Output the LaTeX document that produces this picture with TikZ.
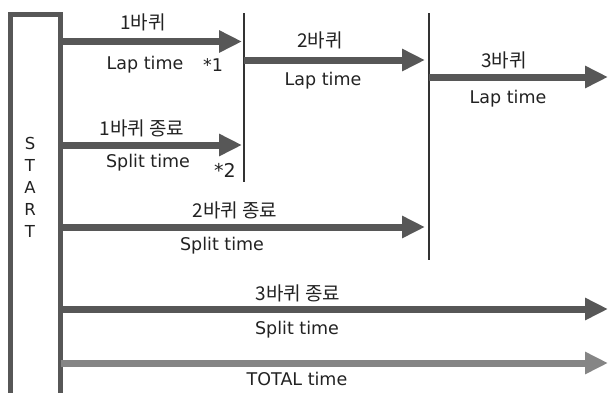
\documentclass[tikz,border=0pt]{standalone}
\usepackage{fontspec}
\setmainfont{DejaVu Sans}
\newfontfamily\kr{Noto Sans CJK KR}
\usetikzlibrary{arrows.meta}
\definecolor{shaft}{HTML}{575757}
\definecolor{shaftlight}{HTML}{858585}
\definecolor{ink}{HTML}{222222}
\definecolor{rule}{HTML}{333333}
\tikzset{
  arr/.style={draw=shaft, line width=7pt,
    -{Triangle[length=23pt, width=21pt]}},
  arrlight/.style={arr, draw=shaftlight},
  mark line/.style={draw=rule, line width=1.4pt},
  lbl/.style={text=ink, inner sep=0pt, font=\fontsize{17.5}{20}\selectfont},
  krlbl/.style={lbl, font=\fontsize{19}{22}\selectfont\kr},
  startbox/.style={draw=shaft, line width=5pt, inner sep=0pt, outer sep=0pt,
    minimum width=50pt, minimum height=420pt, anchor=north west}
}
\begin{document}
\begin{tikzpicture}[x=1pt, y=-1pt]
\useasboundingbox[fill=white] (0,0) rectangle (610,392);
\clip (0,0) rectangle (610,392);

% START column
\node[startbox] (start) at (10.5,14.5) {};
\node[lbl, align=center, font=\fontsize{16.5}{18}\selectfont] (startlbl) at (30,187)
  {S\\[4pt]T\\[4pt]A\\[4pt]R\\[4pt]T};

% lap boundaries
\coordinate (v1top) at (244,13);
\coordinate (v1bot) at (244,182);
\coordinate (v2top) at (429,13);
\coordinate (v2bot) at (429,260);
\draw[mark line] (v1top) -- (v1bot);
\draw[mark line] (v2top) -- (v2bot);

% arrow ends
\coordinate (lap1a) at (start.east |- 0,41.5);
\coordinate (lap1b) at (242,41.5);
\coordinate (spl1a) at (start.east |- 0,145);
\coordinate (spl1b) at (242,145);
\coordinate (lap2a) at (v1top |- 0,60);
\coordinate (lap2b) at (425,60);
\coordinate (lap3a) at (v2top |- 0,77);
\coordinate (lap3b) at (608,77);
\coordinate (spl2a) at (start.east |- 0,227);
\coordinate (spl2b) at (425,227);
\coordinate (spl3a) at (start.east |- 0,309);
\coordinate (spl3b) at (608,309);
\coordinate (tota) at (start.east |- 0,363);
\coordinate (totb) at (608,363);

\draw[arr] (lap1a) -- (lap1b);
\draw[arr] (spl1a) -- (spl1b);
\draw[arr] (lap2a) -- (lap2b);
\draw[arr] (lap3a) -- (lap3b);
\draw[arr] (spl2a) -- (spl2b);
\draw[arr] (spl3a) -- (spl3b);
\draw[arrlight] (tota) -- (totb);

% labels
\node[krlbl] (t1) at (143,22) {1바퀴};
\node[lbl] (t1b) at (145,65) {Lap time};
\node[lbl] (n1) at (213,65) {*1};
\node[krlbl] (t2) at (142,128) {1바퀴 종료};
\node[lbl] (t2b) at (148,163) {Split time};
\node[lbl, font=\fontsize{19}{21}\selectfont] (n2) at (225,170) {*2};
\node[krlbl] (t3) at (320,40) {2바퀴};
\node[lbl] (t3b) at (323,81) {Lap time};
\node[krlbl] (t4) at (504,60) {3바퀴};
\node[lbl] (t4b) at (508,99) {Lap time};
\node[krlbl] (t5) at (235,210) {2바퀴 종료};
\node[lbl] (t5b) at (222,246) {Split time};
\node[krlbl] (t6) at (298,293) {3바퀴 종료};
\node[lbl] (t6b) at (297,330) {Split time};
\node[lbl] (t7) at (297,379) {TOTAL time};
\end{tikzpicture}
\end{document}
